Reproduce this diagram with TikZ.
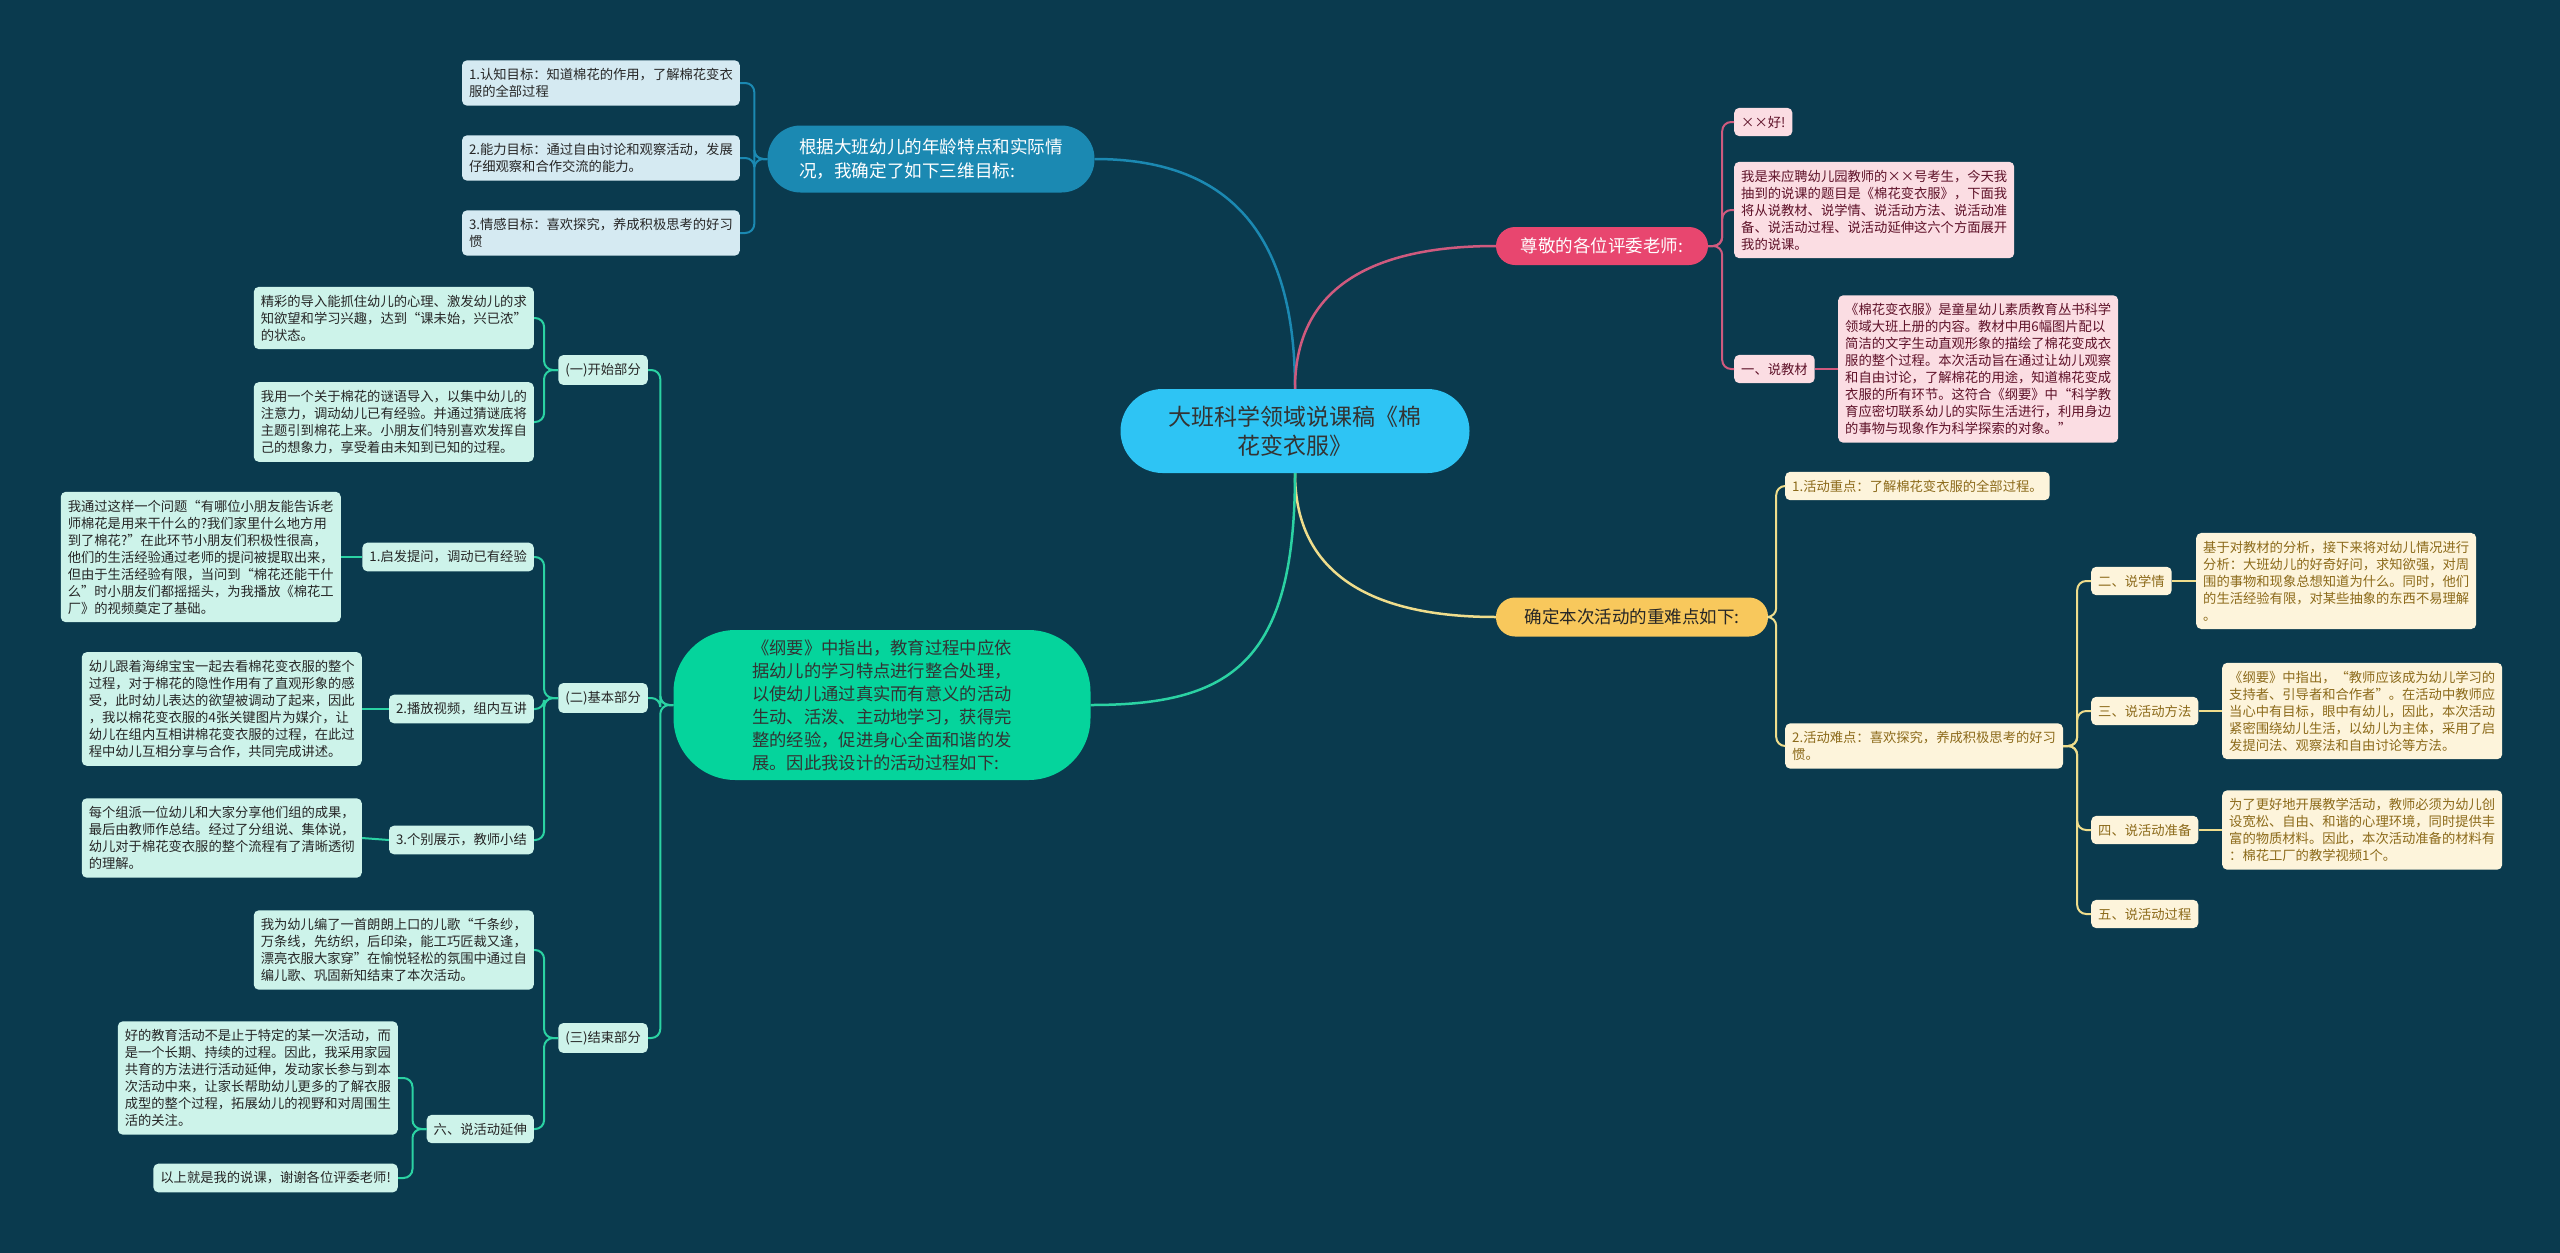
\documentclass[tikz,border=0pt]{standalone}
\usepackage{fontspec}
\setmainfont{Noto Sans CJK SC}
\usepackage{xcolor}
\usepackage{tikz}

\definecolor{bgcol}{HTML}{0A3A4E}
\definecolor{rootcol}{HTML}{2EC4F4}
\definecolor{bluecol}{HTML}{1B89B2}
\definecolor{blueleafcol}{HTML}{D5EAF2}
\definecolor{pinkcol}{HTML}{E8466F}
\definecolor{pinklinecol}{HTML}{CF5A7E}
\definecolor{pinkleafcol}{HTML}{FBDDE3}
\definecolor{pinktextcol}{HTML}{5E1128}
\definecolor{yelcol}{HTML}{F8C85C}
\definecolor{yellinecol}{HTML}{EFDD8C}
\definecolor{yelleafcol}{HTML}{FDF4DB}
\definecolor{yeltextcol}{HTML}{8C6A1A}
\definecolor{grncol}{HTML}{05D49C}
\definecolor{grnlinecol}{HTML}{2BD2A3}
\definecolor{grnleafcol}{HTML}{CDF3EA}

\begin{document}
\begin{tikzpicture}[x=1pt,y=-1pt,
  leaf/.style={rectangle, rounded corners=5pt, align=left, inner xsep=7pt, inner ysep=8pt,
    font=\fontsize{13.3}{17}\selectfont},
  blueleaf/.style={leaf, fill=blueleafcol, text=black!85},
  pinkleaf/.style={leaf, fill=pinkleafcol, text=pinktextcol},
  yelleaf/.style={leaf, fill=yelleafcol, text=yeltextcol},
  grnleaf/.style={leaf, fill=grnleafcol, text=black!85},
  rootnode/.style={rectangle, rounded corners=42pt, fill=rootcol, text=black!80,
    minimum width=349pt, minimum height=84pt, align=center, font=\fontsize{23}{29}\selectfont},
  bluebr/.style={rectangle, rounded corners=33pt, fill=bluecol, text=white,
    minimum width=327pt, minimum height=67pt, align=left, font=\fontsize{17.6}{24}\selectfont},
  pinkbr/.style={rectangle, rounded corners=19pt, fill=pinkcol, text=white,
    minimum width=212pt, minimum height=38pt, font=\fontsize{17.5}{22}\selectfont},
  yelbr/.style={rectangle, rounded corners=19pt, fill=yelcol, text=black!85,
    minimum width=272pt, minimum height=39pt, font=\fontsize{17.5}{22}\selectfont},
  grnbr/.style={rectangle, rounded corners=62pt, fill=grncol, text=black!80,
    minimum width=417pt, minimum height=150pt, align=left, font=\fontsize{17.3}{23}\selectfont},
  bline/.style={draw=bluecol, line width=2.5pt},
  pline/.style={draw=pinklinecol, line width=2.5pt},
  yline/.style={draw=yellinecol, line width=2.5pt},
  gline/.style={draw=grnlinecol, line width=2.5pt},
  bbr/.style={bline, line width=2pt, rounded corners=9pt},
  pbr/.style={pline, line width=2pt, rounded corners=9pt},
  ybr/.style={yline, line width=2pt, rounded corners=9pt},
  gbr/.style={gline, line width=2pt, rounded corners=9pt}]

\fill[bgcol] (0,0) rectangle (2560,1253);

\node[rootnode] (root) at (1295,431) {大班科学领域说课稿《棉\\花变衣服》};

\node[bluebr] (goal) at (931,159) {根据大班幼儿的年龄特点和实际情\\况，我确定了如下三维目标:};
\node[blueleaf, anchor=east] (goal1) at (740,83) {1.认知目标：知道棉花的作用，了解棉花变衣\\服的全部过程};
\node[blueleaf, anchor=east] (goal2) at (740,158) {2.能力目标：通过自由讨论和观察活动，发展\\仔细观察和合作交流的能力。};
\node[blueleaf, anchor=east] (goal3) at (740,233) {3.情感目标：喜欢探究，养成积极思考的好习\\惯};

\node[pinkbr] (judge) at (1602,246) {尊敬的各位评委老师:};
\node[pinkleaf, anchor=west] (hello) at (1734,122) {××好!};
\node[pinkleaf, anchor=west] (intro) at (1734,210) {我是来应聘幼儿园教师的××号考生，今天我\\抽到的说课的题目是《棉花变衣服》，下面我\\将从说教材、说学情、说活动方法、说活动准\\备、说活动过程、说活动延伸这六个方面展开\\我的说课。};
\node[pinkleaf, anchor=west] (mat) at (1734,369) {一、说教材};
\node[pinkleaf, anchor=west] (mattxt) at (1838,369) {《棉花变衣服》是童星幼儿素质教育丛书科学\\领域大班上册的内容。教材中用6幅图片配以\\简洁的文字生动直观形象的描绘了棉花变成衣\\服的整个过程。本次活动旨在通过让幼儿观察\\和自由讨论，了解棉花的用途，知道棉花变成\\衣服的所有环节。这符合《纲要》中“科学教\\育应密切联系幼儿的实际生活进行，利用身边\\的事物与现象作为科学探索的对象。”};

\node[yelbr] (key) at (1632,617) {确定本次活动的重难点如下:};
\node[yelleaf, anchor=west] (key1) at (1785,486) {1.活动重点：了解棉花变衣服的全部过程。};
\node[yelleaf, anchor=west] (key2) at (1785,746) {2.活动难点：喜欢探究，养成积极思考的好习\\惯。};
\node[yelleaf, anchor=west] (stu) at (2091,581) {二、说学情};
\node[yelleaf, anchor=west] (stutxt) at (2196,581) {基于对教材的分析，接下来将对幼儿情况进行\\分析：大班幼儿的好奇好问，求知欲强，对周\\围的事物和现象总想知道为什么。同时，他们\\的生活经验有限，对某些抽象的东西不易理解\\。};
\node[yelleaf, anchor=west] (meth) at (2091,711) {三、说活动方法};
\node[yelleaf, anchor=west] (methtxt) at (2222,711) {《纲要》中指出，“教师应该成为幼儿学习的\\支持者、引导者和合作者”。在活动中教师应\\当心中有目标，眼中有幼儿，因此，本次活动\\紧密围绕幼儿生活，以幼儿为主体，采用了启\\发提问法、观察法和自由讨论等方法。};
\node[yelleaf, anchor=west] (prep) at (2091,830) {四、说活动准备};
\node[yelleaf, anchor=west] (preptxt) at (2222,830) {为了更好地开展教学活动，教师必须为幼儿创\\设宽松、自由、和谐的心理环境，同时提供丰\\富的物质材料。因此，本次活动准备的材料有\\：棉花工厂的教学视频1个。};
\node[yelleaf, anchor=west] (proc) at (2091,914) {五、说活动过程};

\node[grnbr] (plan) at (882,705) {《纲要》中指出，教育过程中应依\\据幼儿的学习特点进行整合处理，\\以使幼儿通过真实而有意义的活动\\生动、活泼、主动地学习，获得完\\整的经验，促进身心全面和谐的发\\展。因此我设计的活动过程如下:};
\node[grnleaf, anchor=east] (start) at (648,370) {(一)开始部分};
\node[grnleaf, anchor=east] (start1) at (534,318) {精彩的导入能抓住幼儿的心理、激发幼儿的求\\知欲望和学习兴趣，达到“课未始，兴已浓”\\的状态。};
\node[grnleaf, anchor=east] (start2) at (534,422) {我用一个关于棉花的谜语导入，以集中幼儿的\\注意力，调动幼儿已有经验。并通过猜谜底将\\主题引到棉花上来。小朋友们特别喜欢发挥自\\己的想象力，享受着由未知到已知的过程。};
\node[grnleaf, anchor=east] (basic) at (648,698) {(二)基本部分};
\node[grnleaf, anchor=east] (ask) at (534,557) {1.启发提问，调动已有经验};
\node[grnleaf, anchor=east] (asktxt) at (341,557) {我通过这样一个问题“有哪位小朋友能告诉老\\师棉花是用来干什么的?我们家里什么地方用\\到了棉花?”在此环节小朋友们积极性很高，\\他们的生活经验通过老师的提问被提取出来，\\但由于生活经验有限，当问到“棉花还能干什\\么”时小朋友们都摇摇头，为我播放《棉花工\\厂》的视频奠定了基础。};
\node[grnleaf, anchor=east] (video) at (534,709) {2.播放视频，组内互讲};
\node[grnleaf, anchor=east] (videotxt) at (362,709) {幼儿跟着海绵宝宝一起去看棉花变衣服的整个\\过程，对于棉花的隐性作用有了直观形象的感\\受，此时幼儿表达的欲望被调动了起来，因此\\，我以棉花变衣服的4张关键图片为媒介，让\\幼儿在组内互相讲棉花变衣服的过程，在此过\\程中幼儿互相分享与合作，共同完成讲述。};
\node[grnleaf, anchor=east] (show) at (534,840) {3.个别展示，教师小结};
\node[grnleaf, anchor=east] (showtxt) at (362,838) {每个组派一位幼儿和大家分享他们组的成果，\\最后由教师作总结。经过了分组说、集体说，\\幼儿对于棉花变衣服的整个流程有了清晰透彻\\的理解。};
\node[grnleaf, anchor=east] (ending) at (648,1038) {(三)结束部分};
\node[grnleaf, anchor=east] (song) at (534,950) {我为幼儿编了一首朗朗上口的儿歌“千条纱，\\万条线，先纺织，后印染，能工巧匠裁又逢，\\漂亮衣服大家穿”在愉悦轻松的氛围中通过自\\编儿歌、巩固新知结束了本次活动。};
\node[grnleaf, anchor=east] (ext) at (534,1129) {六、说活动延伸};
\node[grnleaf, anchor=east] (exttxt) at (398,1078) {好的教育活动不是止于特定的某一次活动，而\\是一个长期、持续的过程。因此，我采用家园\\共育的方法进行活动延伸，发动家长参与到本\\次活动中来，让家长帮助幼儿更多的了解衣服\\成型的整个过程，拓展幼儿的视野和对周围生\\活的关注。};
\node[grnleaf, anchor=east] (thanks) at (398,1178) {以上就是我的说课，谢谢各位评委老师!};

\draw[bline] (root.north) .. controls +(0,-160) and +(130,0) .. (goal.east);
\draw[pline] (root.north) .. controls +(0,-110) and +(-110,0) .. (judge.west);
\draw[yline] (root.south) .. controls +(0,110) and +(-110,0) .. (key.west);
\draw[gline] (root.south) .. controls +(0,190) and +(140,0) .. (plan.east);

\foreach \c in {goal1,goal2,goal3}
  \draw[bbr] (goal.west) -- ++(-13,0) |- (\c.east);

\foreach \c in {hello,intro,mat}
  \draw[pbr] (judge.east) -- ++(14,0) |- (\c.west);
\draw[pbr] (mat.east) -- (mattxt.west);

\foreach \c in {key1,key2}
  \draw[ybr] (key.east) -- ++(8,0) |- (\c.west);
\foreach \c in {stu,meth,prep,proc}
  \draw[ybr] (key2.east) -- ++(14,0) |- (\c.west);
\draw[ybr] (stu.east) -- (stutxt.west);
\draw[ybr] (meth.east) -- (methtxt.west);
\draw[ybr] (prep.east) -- (preptxt.west);

\foreach \c in {start,basic,ending}
  \draw[gbr] (plan.west) -- ++(-13,0) |- (\c.east);
\foreach \c in {start1,start2}
  \draw[gbr] (start.west) -- ++(-14,0) |- (\c.east);
\foreach \c in {ask,video,show}
  \draw[gbr] (basic.west) -- ++(-14,0) |- (\c.east);
\draw[gbr] (ask.west) -- (asktxt.east);
\draw[gbr] (video.west) -- (videotxt.east);
\draw[gbr] (show.west) -- (showtxt.east);
\foreach \c in {song,ext}
  \draw[gbr] (ending.west) -- ++(-14,0) |- (\c.east);
\foreach \c in {exttxt,thanks}
  \draw[gbr] (ext.west) -- ++(-14,0) |- (\c.east);
\end{tikzpicture}
\end{document}
